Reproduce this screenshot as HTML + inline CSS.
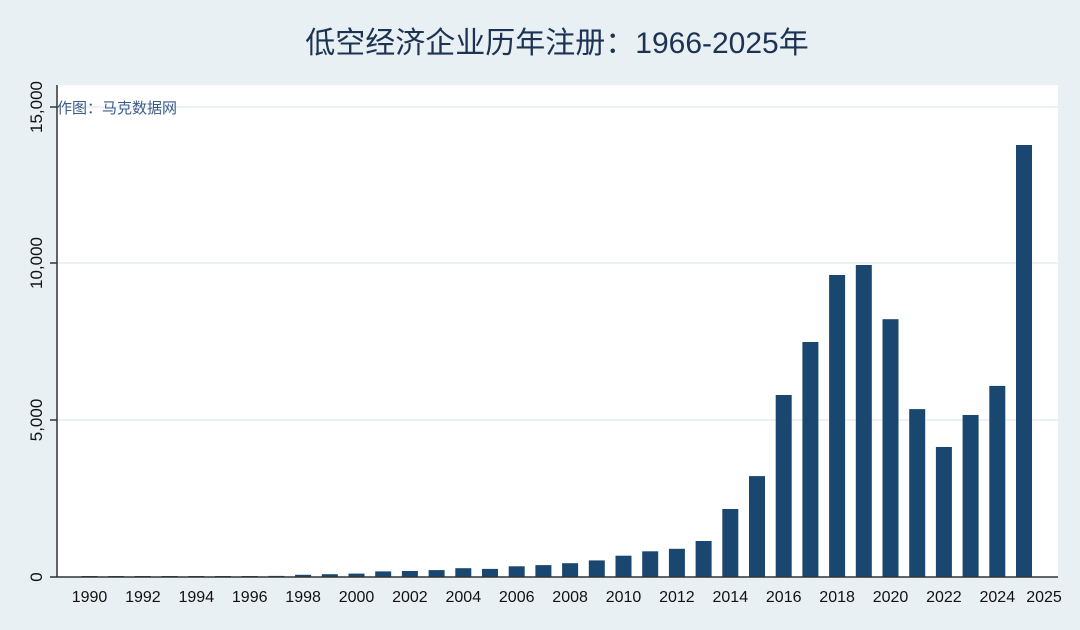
<!DOCTYPE html>
<html><head><meta charset="utf-8"><style>html,body{margin:0;padding:0;background:#e8f0f3}</style></head>
<body>
<svg width="1080" height="630" xmlns="http://www.w3.org/2000/svg" font-family="Liberation Sans, Noto Sans CJK SC, sans-serif" style="display:block">
<rect width="1080" height="630" fill="#e8f0f3"/>
<text x="557" y="53" text-anchor="middle" font-size="30" fill="#1c3353">低空经济企业历年注册：1966-2025年</text>
<rect x="57" y="85" width="1001" height="492" fill="#fff"/>
<g stroke="#e6eef1" stroke-width="1.5">
<line x1="57" x2="1058" y1="420" y2="420"/><line x1="57" x2="1058" y1="263" y2="263"/><line x1="57" x2="1058" y1="107" y2="107"/>
</g>
<g fill="#1a476f">
<rect x="81.5" y="576" width="16" height="1"/>
<rect x="108.2" y="576" width="16" height="1"/>
<rect x="134.9" y="576" width="16" height="1"/>
<rect x="161.6" y="576" width="16" height="1"/>
<rect x="188.3" y="576" width="16" height="1"/>
<rect x="215" y="576" width="16" height="1"/>
<rect x="241.7" y="576" width="16" height="1"/>
<rect x="268.4" y="575.9" width="16" height="1.1"/>
<rect x="295.1" y="574.8" width="16" height="2.2"/>
<rect x="321.8" y="574.2" width="16" height="2.8"/>
<rect x="348.5" y="573.6" width="16" height="3.4"/>
<rect x="375.2" y="571.4" width="16" height="5.6"/>
<rect x="401.9" y="571" width="16" height="6"/>
<rect x="428.6" y="570.1" width="16" height="6.9"/>
<rect x="455.3" y="568.2" width="16" height="8.8"/>
<rect x="482" y="568.9" width="16" height="8.1"/>
<rect x="508.7" y="566.3" width="16" height="10.7"/>
<rect x="535.4" y="565.1" width="16" height="11.9"/>
<rect x="562.1" y="563.2" width="16" height="13.8"/>
<rect x="588.8" y="560.4" width="16" height="16.6"/>
<rect x="615.5" y="555.7" width="16" height="21.3"/>
<rect x="642.2" y="551.3" width="16" height="25.7"/>
<rect x="668.9" y="548.8" width="16" height="28.2"/>
<rect x="695.6" y="541" width="16" height="36"/>
<rect x="722.3" y="509" width="16" height="68"/>
<rect x="749" y="476.1" width="16" height="100.9"/>
<rect x="775.7" y="395" width="16" height="182"/>
<rect x="802.4" y="342" width="16" height="235"/>
<rect x="829.1" y="275" width="16" height="302"/>
<rect x="855.8" y="265" width="16" height="312"/>
<rect x="882.5" y="319.2" width="16" height="257.8"/>
<rect x="909.2" y="409.1" width="16" height="167.9"/>
<rect x="935.9" y="447" width="16" height="130"/>
<rect x="962.6" y="415" width="16" height="162"/>
<rect x="989.3" y="385.9" width="16" height="191.1"/>
<rect x="1016" y="145" width="16" height="432"/>
</g>
<line x1="57" y1="85" x2="57" y2="577" stroke="#333" stroke-width="1.5"/>
<line x1="50" y1="577" x2="1058" y2="577" stroke="#333" stroke-width="1.5"/>
<g stroke="#333" stroke-width="1.5"><line x1="50" x2="57" y1="420" y2="420"/><line x1="50" x2="57" y1="263" y2="263"/><line x1="50" x2="57" y1="107" y2="107"/></g>
<g font-size="17" fill="#111" text-anchor="middle">
<text transform="translate(42,577) rotate(-90)">0</text>
<text transform="translate(42,420) rotate(-90)">5,000</text>
<text transform="translate(42,263) rotate(-90)">10,000</text>
<text transform="translate(42,107) rotate(-90)">15,000</text>
</g>
<text x="57" y="113" font-size="15" fill="#3a5a8c">作图：马克数据网</text>
<g font-size="16" fill="#111" text-anchor="middle">
<text x="89.5" y="602">1990</text><text x="142.9" y="602">1992</text><text x="196.3" y="602">1994</text>
<text x="249.7" y="602">1996</text><text x="303.1" y="602">1998</text><text x="356.5" y="602">2000</text>
<text x="409.9" y="602">2002</text><text x="463.3" y="602">2004</text><text x="516.7" y="602">2006</text>
<text x="570.1" y="602">2008</text><text x="623.5" y="602">2010</text><text x="676.9" y="602">2012</text>
<text x="730.3" y="602">2014</text><text x="783.7" y="602">2016</text><text x="837.1" y="602">2018</text>
<text x="890.5" y="602">2020</text><text x="943.9" y="602">2022</text><text x="997.3" y="602">2024</text>
<text x="1044" y="602">2025</text>
</g>
</svg>
</body></html>
